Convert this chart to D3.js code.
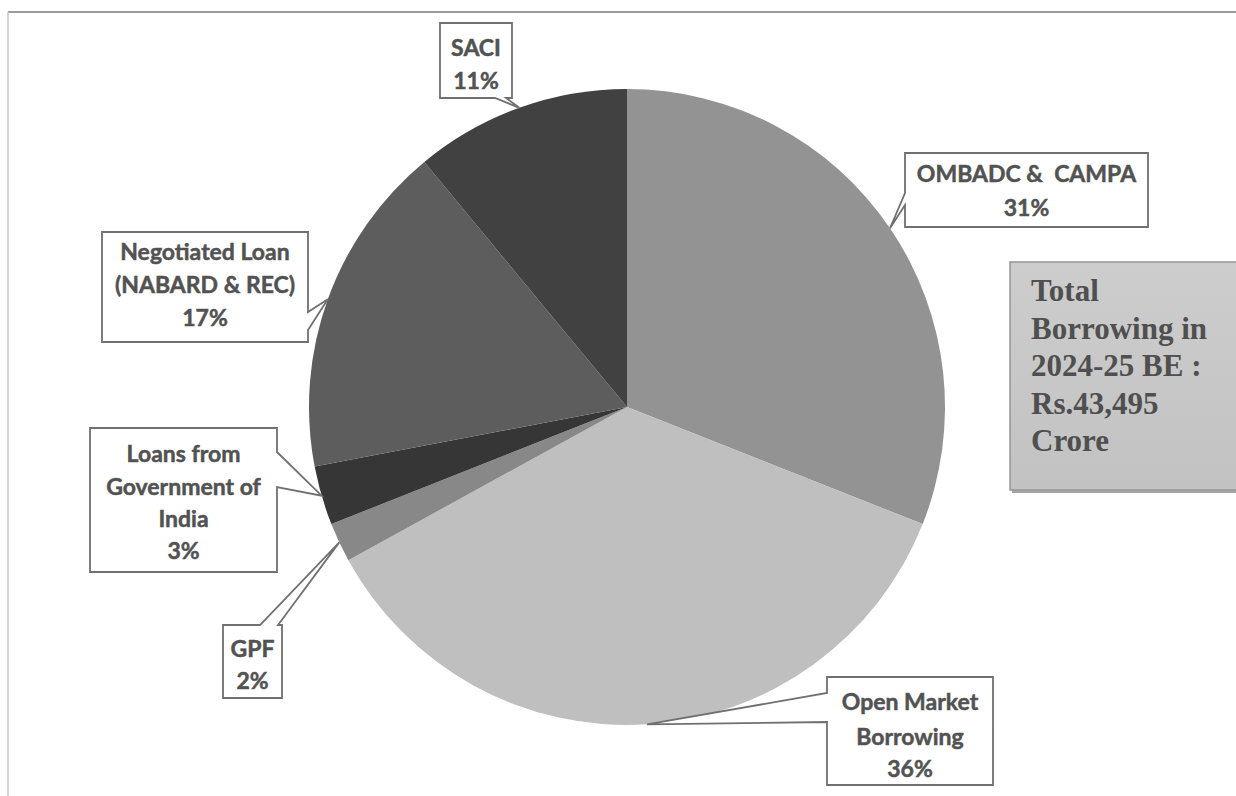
<!DOCTYPE html>
<html><head><meta charset="utf-8">
<script src="https://cdn.jsdelivr.net/npm/d3@7"></script>
<style>html,body{margin:0;padding:0;background:#fff;}svg{display:block;}</style>
</head><body>
<svg id="chart" width="1236" height="796"></svg>
<script>
// ---- data ----
const categories = ["OMBADC &  CAMPA", "Open Market Borrowing", "GPF", "Loans from Government of India", "Negotiated Loan (NABARD & REC)", "SACI"];
const shares = [31, 36, 2, 3, 17, 11];
const labelLines = [
  ["OMBADC &  CAMPA", "31%"],
  ["Open Market", "Borrowing", "36%"],
  ["GPF", "2%"],
  ["Loans from", "Government of", "India", "3%"],
  ["Negotiated Loan", "(NABARD & REC)", "17%"],
  ["SACI", "11%"]
];
const totalNote = ["Total", "Borrowing in", "2024-25 BE :", "Rs.43,495", "Crore"];

// ---- style / layout ----
const colors = ["#939393", "#bfbfbf", "#888888", "#363636", "#5d5d5d", "#414141"];
const cx = 627, cy = 407, R = 318;
const boxes = [
  {x:905, y:153, w:243, h:74, side:"left", a:205, b:193, lines:[173, 207]},
  {x:827, y:677, w:166, h:108, side:"left", a:722, b:693, lines:[701, 736, 768]},
  {x:223, y:625, w:59, h:73, side:"top", a:260, b:278, lines:[648, 680]},
  {x:90, y:428, w:187, h:144, side:"right", a:452, b:487, lines:[453, 486, 518, 550]},
  {x:102, y:232, w:206, h:110, side:"right", a:312, b:330, lines:[251, 284, 317]},
  {x:440, y:23, w:72, h:75, side:"bottom", a:506, b:495, lines:[47, 80]}
];

const svg = d3.select("#chart");

svg.append("line").attr("x1", 8).attr("y1", 12).attr("x2", 1236).attr("y2", 12)
  .attr("stroke", "#9a9a9a").attr("stroke-width", 2);
svg.append("line").attr("x1", 8).attr("y1", 12).attr("x2", 8).attr("y2", 796)
  .attr("stroke", "#c8c8c8").attr("stroke-width", 1.5);

const pie = d3.pie().sort(null).value(d => d)(shares);
const arc = d3.arc().innerRadius(0).outerRadius(R);
const edgeArc = d3.arc().innerRadius(R).outerRadius(R);

const g = svg.append("g").attr("transform", `translate(${cx},${cy})`);
g.selectAll("path.slice").data(pie).join("path")
  .attr("class", "slice")
  .attr("d", arc)
  .attr("fill", (d, i) => colors[i]);

function calloutPath(b, tip) {
  const x0 = b.x, y0 = b.y, x1 = b.x + b.w, y1 = b.y + b.h;
  const t = `L${tip[0]},${tip[1]}`;
  let p = `M${x0},${y0}`;
  if (b.side === "top") p += `L${b.a},${y0}${t}L${b.b},${y0}`;
  p += `L${x1},${y0}`;
  if (b.side === "right") p += `L${x1},${b.a}${t}L${x1},${b.b}`;
  p += `L${x1},${y1}`;
  if (b.side === "bottom") p += `L${b.a},${y1}${t}L${b.b},${y1}`;
  p += `L${x0},${y1}`;
  if (b.side === "left") p += `L${x0},${b.a}${t}L${x0},${b.b}`;
  return p + "Z";
}

const labels = svg.append("g");
pie.forEach((d, i) => {
  const c = edgeArc.centroid(d);
  const tip = [cx + c[0], cy + c[1]];
  const b = boxes[i];
  labels.append("path").attr("d", calloutPath(b, tip))
    .attr("fill", "#fff").attr("stroke", "#707070").attr("stroke-width", 1.8)
    .attr("stroke-linejoin", "miter");
  labelLines[i].forEach((t, j) => {
    labels.append("text")
      .attr("x", b.x + b.w / 2).attr("y", b.lines[j])
      .attr("text-anchor", "middle").attr("dominant-baseline", "central")
      .attr("font-family", "Lato, 'Open Sans', sans-serif").attr("font-weight", "bold")
      .attr("font-size", 23).attr("fill", "#525252")
      .attr("stroke", "#525252").attr("stroke-width", 0.5)
      .style("white-space", "pre")
      .text(t);
  });
});

const defs = svg.append("defs");
const grad = defs.append("linearGradient").attr("id", "tg").attr("x1", 0).attr("y1", 0).attr("x2", 0).attr("y2", 1);
grad.append("stop").attr("offset", "0%").attr("stop-color", "#cdcdcd");
grad.append("stop").attr("offset", "100%").attr("stop-color", "#c2c2c2");
svg.append("rect").attr("x", 1012).attr("y", 265).attr("width", 240).attr("height", 228).attr("fill", "#a5a5a5");
svg.append("rect").attr("x", 1010).attr("y", 262).attr("width", 240).attr("height", 228)
  .attr("fill", "url(#tg)").attr("stroke", "#959595").attr("stroke-width", 1.5);
svg.append("g").selectAll("text").data(totalNote).join("text")
  .attr("x", 1031).attr("y", (d, i) => 301 + i * 37.5)
  .attr("font-family", "'Liberation Serif', 'Times New Roman', serif").attr("font-weight", "bold")
  .attr("font-size", 31).attr("fill", "#4f4f4f")
  .text(d => d);
</script>
</body></html>
